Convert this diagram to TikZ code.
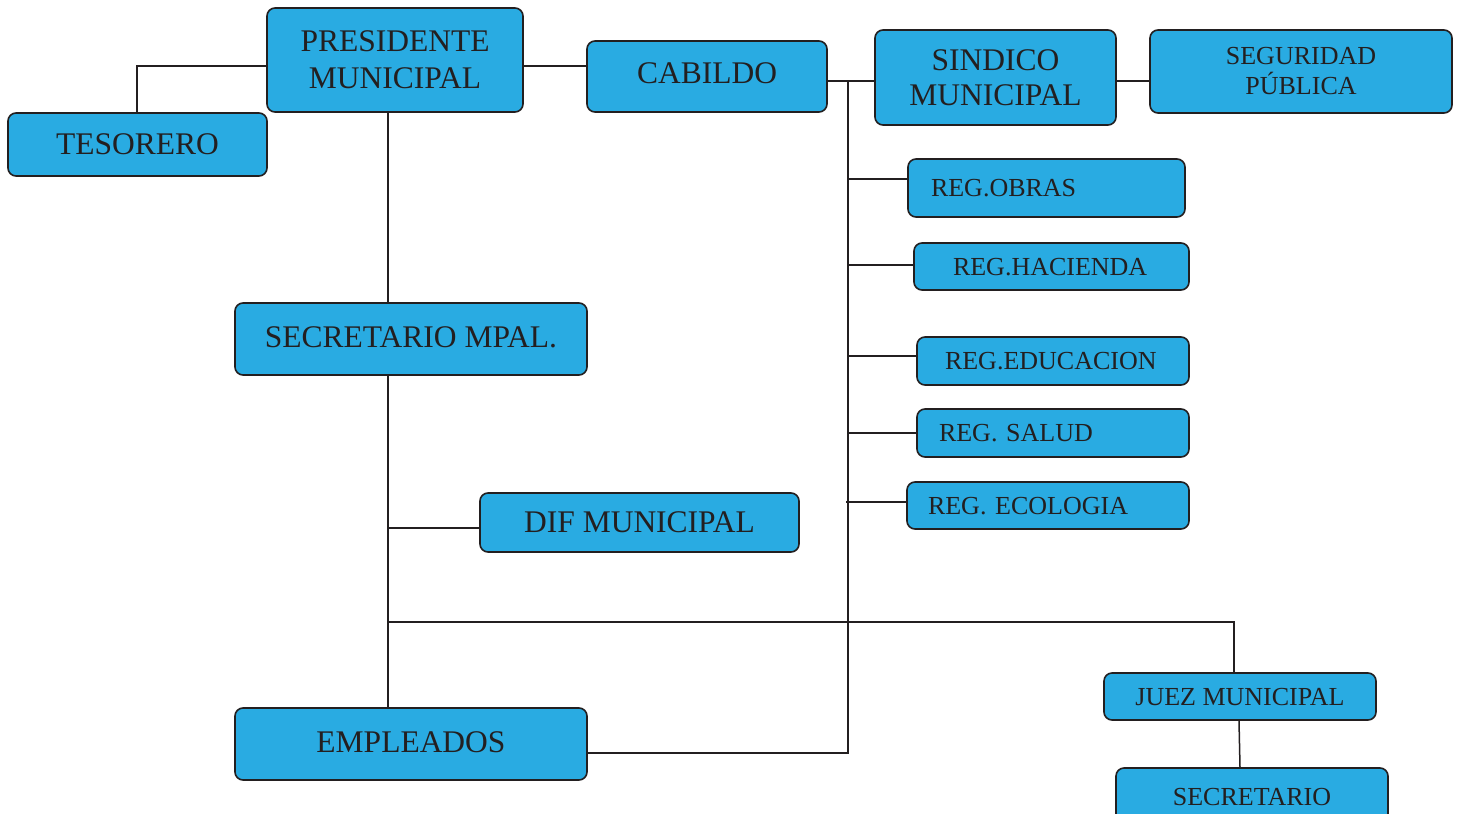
\documentclass[tikz,border=0pt]{standalone}
\usepackage{fontspec}
\setmainfont{Liberation Serif}
\definecolor{boxfill}{HTML}{29ABE2}
\definecolor{ink}{HTML}{231F20}
\begin{document}
\begin{tikzpicture}[x=1pt,y=-1pt,
  box/.style={draw=ink, fill=boxfill, line width=1.6pt, rounded corners=8pt, inner sep=0pt, text=ink, align=center},
  big/.style={font=\fontsize{31.5}{37}\selectfont},
  small/.style={font=\fontsize{26}{30}\selectfont},
  onebig/.style={text height=20.8pt, text depth=0pt},
  onesmall/.style={text height=17.2pt, text depth=0pt},
  wh/.style 2 args={minimum width=#1pt, minimum height=#2pt},
  lft/.style 2 args={align=left, inner xsep=#2pt, text width=#1pt-2*#2pt, minimum width=#1pt},
  conn/.style={draw=ink, line width=1.5pt}
]
\useasboundingbox (0,0) rectangle (1462,814);
\fill[white] (0,0) rectangle (1462,814);

% boxes
\node[box,big,wh={256}{104}] (pres) at (395,60) {PRESIDENTE\\MUNICIPAL};
\node[box,big,onebig,wh={259}{63}] (tes) at (137.5,144.5) {TESORERO};
\node[box,big,onebig,text depth=7pt,wh={240}{71}] (cab) at (707,76.5) {CABILDO};
\node[box,wh={241}{95},font=\fontsize{31.5}{35}\selectfont] (sind) at (995.5,77.5) {SINDICO\\MUNICIPAL};
\node[box,wh={302}{83},font=\fontsize{26}{30}\selectfont] (seg) at (1301,71.5) {SEGURIDAD\\PÚBLICA};
\node[box,small,onesmall,lft={277}{23},minimum height=58pt] (obras) at (1046.5,188) {REG.OBRAS};
\node[box,small,onesmall,lft={275}{39},minimum height=47pt] (hac) at (1051.5,266.5) {REG.HACIENDA};
\node[box,small,onesmall,lft={272}{28},minimum height=48pt] (edu) at (1053,361) {REG.EDUCACION};
\node[box,small,onesmall,lft={272}{22},minimum height=48pt] (sal) at (1053,433) {REG. SALUD};
\node[box,small,onesmall,lft={282}{21},minimum height=47pt] (eco) at (1048,505.5) {REG. ECOLOGIA};
\node[box,big,onebig,text depth=4pt,wh={352}{72}] (secm) at (411,339) {SECRETARIO MPAL.};
\node[box,big,onebig,wh={319}{59}] (dif) at (639.5,522.5) {DIF MUNICIPAL};
\node[box,big,onebig,text depth=4pt,wh={352}{72}] (emp) at (411,744) {EMPLEADOS};
\node[box,small,onesmall,wh={272}{47}] (juez) at (1240,696.5) {JUEZ MUNICIPAL};
\node[box,small,onesmall,wh={272}{58}] (secr) at (1252,797) {SECRETARIO};

% junction coordinates
\coordinate (tj) at (137,66);
\coordinate (py) at (0,66);
\coordinate (bustop) at (848,81);
\coordinate (busbot) at (848,753);
\coordinate (vx) at (388,0);
\coordinate (hl) at (388,622);
\coordinate (hr) at (1234,622);

% connectors
\draw[conn] (pres.west |- tj) -- (tj) -- (tes.north -| tj);
\draw[conn] (pres.east |- py) -- (cab.west |- py);
\draw[conn] (cab.east |- bustop) -- (sind.west |- bustop);
\draw[conn] (sind.east |- bustop) -- (seg.west |- bustop);
\draw[conn] (bustop) -- (busbot) -- (emp.east |- busbot);
\draw[conn] ([yshift=9pt]obras.west -| bustop) -- ([yshift=9pt]obras.west);
\draw[conn] ([yshift=1.5pt]hac.west -| bustop) -- ([yshift=1.5pt]hac.west);
\draw[conn] ([yshift=5pt]edu.west -| bustop) -- ([yshift=5pt]edu.west);
\draw[conn] (sal.west -| bustop) -- (sal.west);
\draw[conn] ([yshift=3.5pt,xshift=-2pt]eco.west -| bustop) -- ([yshift=3.5pt]eco.west);
\draw[conn] (pres.south -| vx) -- (secm.north -| vx);
\draw[conn] (secm.south -| vx) -- (emp.north -| vx);
\draw[conn] ([yshift=-5.5pt]dif.west -| vx) -- ([yshift=-5.5pt]dif.west);
\draw[conn] (hl) -- (hr) -- (juez.north -| hr);
\draw[conn] ([xshift=-1pt]juez.south) -- (secr.north -| juez.south);
\end{tikzpicture}
\end{document}
